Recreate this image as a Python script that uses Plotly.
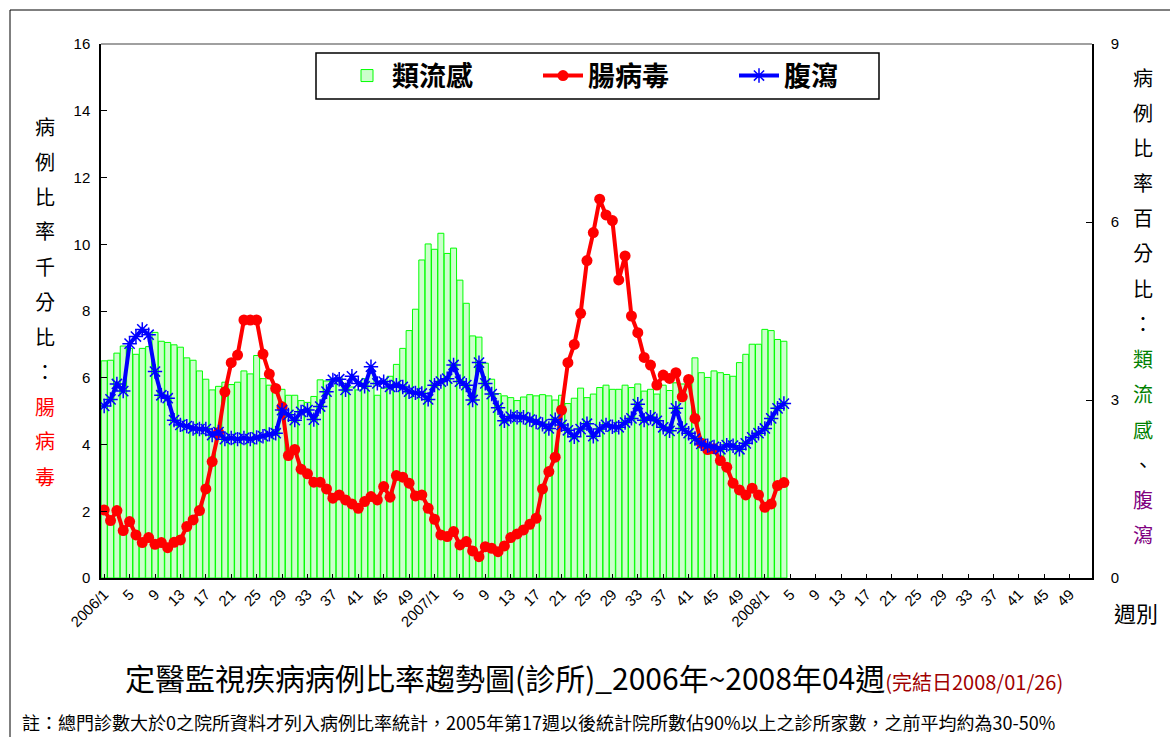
import plotly.graph_objects as go

# ---------------- data ----------------
years = [2006, 2007, 2008]
week_labels = [f"{y}/{w}" for y in years for w in range(1, 53)]
tick_vals = [lab for lab in week_labels if int(lab.split("/")[1]) % 4 == 1]
tick_text = [lab if lab.endswith("/1") else lab.split("/")[1] for lab in tick_vals]

# 類流感 (percent, right axis) 2006/1 .. 2008/4
flu_pct = [
    3.66, 3.67, 3.79, 3.91, 3.87, 3.77, 3.87, 3.90, 4.14, 3.99,
    3.97, 3.93, 3.89, 3.71, 3.67, 3.49, 3.35, 3.17, 3.23, 3.30,
    3.26, 3.30, 3.49, 3.44, 3.75, 3.36, 3.25, 3.13, 3.18, 3.08,
    3.08, 2.99, 2.96, 3.06, 3.34, 3.32, 3.36, 3.38, 3.28, 3.22,
    3.17, 3.36, 3.50, 3.08, 3.20, 3.40, 3.60, 3.87, 4.17, 4.53,
    5.36, 5.63,
    5.54, 5.81, 5.47, 5.56, 5.02, 4.63, 4.08, 4.06, 3.62, 3.35,
    3.11, 3.07, 3.04, 2.99, 3.05, 3.09, 3.07, 3.09, 3.07, 3.00,
    3.08, 2.94, 3.03, 3.20, 3.04, 3.10, 3.21, 3.25, 3.18, 3.18,
    3.25, 3.21, 3.27, 3.15, 3.18, 3.10, 3.25, 3.16, 3.29, 3.27,
    3.29, 3.71, 3.46, 3.38, 3.49, 3.46, 3.43, 3.40, 3.63, 3.77,
    3.94, 3.94,
    4.19, 4.17, 4.02, 3.99,
]

# 腸病毒 (per thousand, left axis)
entero_permille = [
    2.04, 1.72, 2.02, 1.42, 1.69, 1.29, 1.06, 1.21, 1.01, 1.06,
    0.91, 1.07, 1.14, 1.54, 1.74, 2.02, 2.67, 3.49, 4.36, 5.58,
    6.45, 6.68, 7.73, 7.73, 7.73, 6.71, 6.11, 5.68, 5.13, 3.67,
    3.85, 3.26, 3.12, 2.87, 2.87, 2.67, 2.39, 2.49, 2.34, 2.22,
    2.09, 2.29, 2.44, 2.34, 2.74, 2.42, 3.07, 3.02, 2.84, 2.46,
    2.49, 2.09,
    1.76, 1.29, 1.24, 1.39, 0.99, 1.09, 0.81, 0.64, 0.94, 0.89,
    0.79, 0.96, 1.21, 1.32, 1.44, 1.61, 1.79, 2.67, 3.19, 3.62,
    5.03, 6.45, 7.00, 7.93, 9.51, 10.35, 11.35, 10.88, 10.71, 8.93,
    9.65, 7.85, 7.35, 6.61, 6.38, 5.78, 6.08, 5.98, 6.15, 5.43,
    5.95, 4.78, 4.04, 3.85, 3.87, 3.52, 3.32, 2.84, 2.64, 2.49,
    2.69, 2.49,
    2.12, 2.22, 2.77, 2.86,
]

# 腹瀉 (percent, right axis)
diarrhea_pct = [
    2.90, 3.01, 3.27, 3.15, 3.95, 4.07, 4.19, 4.10, 3.48, 3.08,
    3.03, 2.66, 2.58, 2.56, 2.52, 2.51, 2.51, 2.41, 2.46, 2.34,
    2.36, 2.34, 2.36, 2.34, 2.37, 2.39, 2.42, 2.44, 2.83, 2.75,
    2.66, 2.80, 2.83, 2.67, 2.89, 3.14, 3.34, 3.35, 3.17, 3.40,
    3.28, 3.23, 3.56, 3.28, 3.31, 3.22, 3.25, 3.22, 3.14, 3.12,
    3.11, 3.01,
    3.25, 3.31, 3.36, 3.59, 3.31, 3.25, 3.00, 3.63, 3.28, 3.10,
    2.87, 2.65, 2.72, 2.71, 2.71, 2.67, 2.63, 2.59, 2.52, 2.67,
    2.58, 2.49, 2.38, 2.51, 2.60, 2.39, 2.51, 2.58, 2.55, 2.54,
    2.62, 2.69, 2.93, 2.66, 2.71, 2.65, 2.54, 2.48, 2.86, 2.52,
    2.44, 2.35, 2.26, 2.23, 2.21, 2.17, 2.24, 2.23, 2.17, 2.27,
    2.37, 2.44,
    2.52, 2.69, 2.86, 2.94,
]

x_data = week_labels[:len(flu_pct)]

# ---------------- layout geometry ----------------
W, H = 1170, 737
ML, MR, MT, MB = 101, 78, 44, 159
PW, PH = W - ML - MR, H - MT - MB


def px_x(p):
    return (p - ML) / PW


def px_y(p):
    return (H - MB - p) / PH


FONT = "Noto Sans CJK TC, Liberation Sans, Arial, sans-serif"
NUMFONT = "Liberation Sans, Arial, sans-serif"

fig = go.Figure()

fig.add_trace(go.Bar(
    x=x_data, y=flu_pct, name="類流感", yaxis="y",
    marker=dict(color="#ccffcc", line=dict(color="#00ff00", width=1)),
))
fig.add_trace(go.Scatter(
    x=x_data, y=entero_permille, name="腸病毒", yaxis="y2", mode="lines+markers",
    line=dict(color="#ff0000", width=4),
    marker=dict(symbol="circle", size=11, color="#ff0000"),
))
fig.add_trace(go.Scatter(
    x=x_data, y=diarrhea_pct, name="腹瀉", yaxis="y3", mode="lines+markers",
    line=dict(color="#0000ff", width=4),
    marker=dict(symbol="asterisk-open", size=12, color="#0000ff",
                line=dict(color="#0000ff", width=1.5)),
))

annotations = []
# left vertical title
left_chars = list("病例比率千分比：腸病毒")
left_colors = ["#000000"] * 8 + ["#ff0000"] * 3
for i, (ch, col) in enumerate(zip(left_chars, left_colors)):
    annotations.append(dict(
        text=ch, x=px_x(45), y=px_y(126 + i * 35), xref="paper", yref="paper",
        showarrow=False, font=dict(family=FONT, size=20, color=col),
        xanchor="center", yanchor="middle"))
# right vertical title
right_chars = list("病例比率百分比：類流感、腹瀉")
right_colors = ["#000000"] * 8 + ["#008000"] * 3 + ["#000000"] + ["#800080"] * 2
for i, (ch, col) in enumerate(zip(right_chars, right_colors)):
    annotations.append(dict(
        text=ch, x=px_x(1143), y=px_y(77 + i * 35.2), xref="paper", yref="paper",
        showarrow=False, font=dict(family=FONT, size=20, color=col),
        xanchor="center", yanchor="middle"))

annotations.append(dict(
    text="週別", x=px_x(1136), y=px_y(612), xref="paper", yref="paper",
    showarrow=False, font=dict(family=FONT, size=22, color="#000000"),
    xanchor="center", yanchor="middle"))

annotations.append(dict(
    text=("定醫監視疾病病例比率趨勢圖(診所)_2006年~2008年04週"
          "<span style='font-size:20px;color:#a00000'>(完結日2008/01/26)</span>"),
    x=px_x(594), y=px_y(677), xref="paper", yref="paper", showarrow=False,
    font=dict(family=FONT, size=30, color="#000000"),
    xanchor="center", yanchor="middle"))

annotations.append(dict(
    text=("註：總門診數大於0之院所資料才列入病例比率統計，2005年第17週以後統計院所數佔90%以上之診所家數，"
          "之前平均約為30-50%"),
    x=px_x(20), y=px_y(722), xref="paper", yref="paper", showarrow=False,
    font=dict(family=FONT, size=18, color="#000000"),
    xanchor="left", yanchor="middle"))

shapes = [
    # top border of plot area
    dict(type="line", xref="paper", yref="paper", x0=0, x1=1, y0=1, y1=1,
         line=dict(color="#a0a0a0", width=2)),
    # legend box
    dict(type="rect", xref="paper", yref="paper",
         x0=px_x(316), x1=px_x(879), y0=px_y(99), y1=px_y(53),
         line=dict(color="#000000", width=1.5), fillcolor="rgba(0,0,0,0)"),
    # outer chart frame
    dict(type="rect", xref="paper", yref="paper",
         x0=px_x(10), x1=px_x(1200), y0=px_y(760), y1=px_y(10),
         line=dict(color="#000000", width=1), fillcolor="rgba(0,0,0,0)"),
]

axis_common = dict(showgrid=False, zeroline=False, showline=True,
                   linecolor="#000000", linewidth=1.5, ticks="inside",
                   tickcolor="#000000", tickfont=dict(family=NUMFONT, size=15, color="#000000"))

fig.update_layout(
    width=W, height=H,
    margin=dict(l=ML, r=MR, t=MT, b=MB),
    paper_bgcolor="#ffffff", plot_bgcolor="#ffffff",
    bargap=0.06,
    showlegend=True,
    legend=dict(orientation="h", x=px_x(342), y=px_y(76), xanchor="left", yanchor="middle",
                entrywidth=141, entrywidthmode="pixels",
                font=dict(family=FONT, size=27, color="#000000", weight="bold"),
                bgcolor="rgba(0,0,0,0)", borderwidth=0, itemwidth=40),
    xaxis=dict(type="category", categoryorder="array", categoryarray=week_labels,
               range=[-0.5, len(week_labels) - 0.5], tickmode="array",
               tickvals=tick_vals, ticktext=tick_text, tickangle=-45, ticklen=4,
               **axis_common),
    yaxis=dict(side="right", range=[0, 9], dtick=3, ticklen=6, ticklabelstandoff=14,
               **axis_common),
    yaxis2=dict(side="left", overlaying="y", range=[0, 16], dtick=2, ticklen=6,
                ticklabelstandoff=6, **axis_common),
    yaxis3=dict(overlaying="y", range=[0, 9], visible=False),
    annotations=annotations,
    shapes=shapes,
)

fig.write_html("out.html", config={"displayModeBar": False},
               post_script="document.body.style.margin='0';document.body.style.overflow='hidden';")
